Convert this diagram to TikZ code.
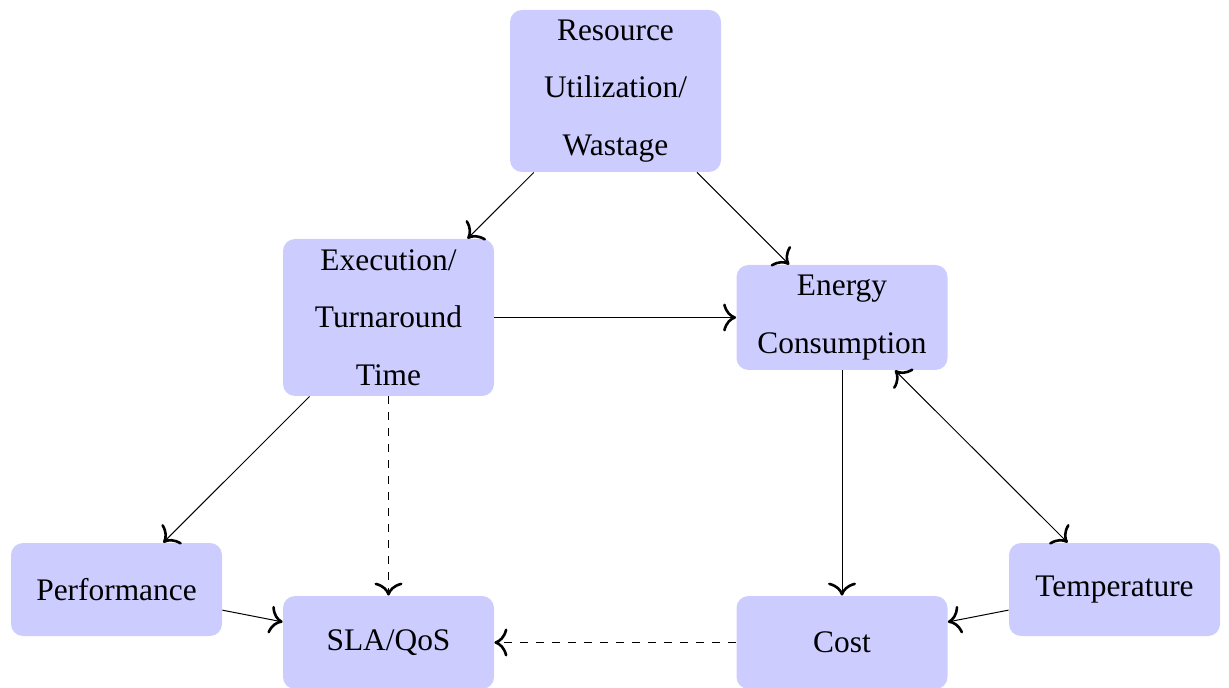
\documentclass[tikz,border=0pt]{standalone}
\usepackage{fontspec}
\setmainfont{Liberation Serif}
\usetikzlibrary{arrows.meta}
\begin{document}
\begin{tikzpicture}[x=0.5pt,y=-0.5pt,
  box/.style={rectangle, rounded corners=6pt, fill=blue!20, inner sep=0pt,
    minimum width=105.5pt, align=center,
    font=\fontsize{15.7}{28.8}\selectfont},
  tip/.tip={To[length=6.5pt,width=14pt,line width=1.3pt]},
  arr/.style={-tip, line width=0.5pt},
  darr/.style={tip-tip, line width=0.5pt},
  dsh/.style={arr, dash pattern=on 4pt off 4pt}
]
\useasboundingbox (0,0) rectangle (1229,688);
\node[box, minimum height=81pt] (res) at (615.5,91) {Resource\\Utilization/\\Wastage};
\node[box, minimum height=78.5pt] (exe) at (388.5,317.5) {Execution/\\Turnaround\\Time};
\node[box, minimum height=52.5pt] (ene) at (842,317.5) {Energy\\Consumption};
\node[box, minimum height=46.5pt] (perf) at (116.5,589.5) {Performance};
\node[box, minimum height=46.5pt] (temp) at (1114.5,589.5) {Temperature};
\node[box, minimum height=46.5pt] (sla) at (388.5,642.5) {SLA/QoS};
\node[box, minimum height=46.5pt] (cost) at (842,642.5) {Cost};
\draw[arr] (res) -- (exe);
\draw[arr] (res) -- (ene);
\draw[arr] (exe) -- (ene);
\draw[arr] (exe) -- (perf);
\draw[dsh] (exe) -- (sla);
\draw[arr] (perf) -- (sla);
\draw[arr] (ene) -- (cost);
\draw[darr] (ene) -- (temp);
\draw[arr] (temp) -- (cost);
\draw[dsh] (cost) -- (sla);
\end{tikzpicture}
\end{document}
